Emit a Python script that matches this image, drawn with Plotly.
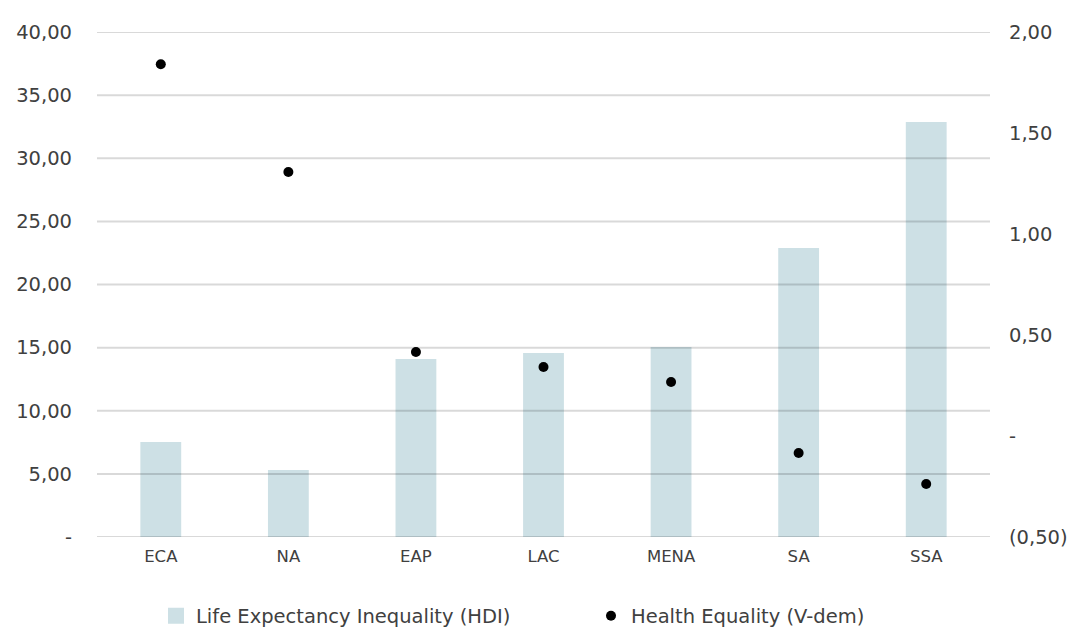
import plotly.graph_objects as go

categories = ["ECA", "NA", "EAP", "LAC", "MENA", "SA", "SSA"]
life_exp_ineq = [7.52, 5.31, 14.10, 14.57, 15.05, 22.90, 32.87]
health_equality = [1.84, 1.307, 0.416, 0.342, 0.267, -0.084, -0.238]

left_tickvals = [0, 5, 10, 15, 20, 25, 30, 35, 40]
left_ticktext = ["-", "5,00", "10,00", "15,00", "20,00", "25,00", "30,00", "35,00", "40,00"]
right_tickvals = [-0.5, 0, 0.5, 1.0, 1.5, 2.0]
right_ticktext = ["(0,50)", "-", "0,50", "1,00", "1,50", "2,00"]

bar_name = "Life Expectancy Inequality (HDI)"
dot_name = "Health Equality (V-dem)"

FONT = "'DejaVu Sans', sans-serif"
TXT = "#404040"
BAR = "#cde0e5"

W, H = 1073, 627

fig = go.Figure()
fig.add_trace(go.Bar(
    x=categories, y=life_exp_ineq, name=bar_name, showlegend=False,
    marker=dict(color=BAR, line=dict(width=0)), width=0.32, yaxis="y",
))
# legend-only entry with a larger square swatch
fig.add_trace(go.Scatter(
    x=[None], y=[None], name=bar_name, mode="markers",
    marker=dict(symbol="square", color=BAR, size=16), yaxis="y",
))
fig.add_trace(go.Scatter(
    x=categories, y=health_equality, name=dot_name,
    mode="markers", marker=dict(color="#000000", size=10), yaxis="y2",
))

shapes = [dict(type="line", xref="paper", x0=0, x1=1, yref="y", y0=v, y1=v,
               line=dict(color="rgba(0,0,0,0.15)", width=2), layer="above")
          for v in left_tickvals]

fig.update_layout(
    width=W, height=H,
    margin=dict(l=97, r=83, t=32, b=90, autoexpand=False),
    paper_bgcolor="white", plot_bgcolor="white",
    font=dict(family=FONT, color=TXT, size=19),
    showlegend=True,
    legend=dict(orientation="h", x=156 / W, xanchor="left", xref="container",
                y=11 / H, yanchor="middle", yref="container",
                font=dict(size=19.5, color=TXT), entrywidth=390, entrywidthmode="pixels",
                traceorder="normal", itemsizing="trace"),
    xaxis=dict(showgrid=False, showline=False, ticks="", tickfont=dict(size=16.5, color=TXT),
               range=[-0.5, 6.5], ticklabelstandoff=7),
    yaxis=dict(range=[0, 40], tickvals=left_tickvals, ticktext=left_ticktext,
               showgrid=False, zeroline=False, showline=False, ticks="",
               ticklabelstandoff=24, tickfont=dict(size=19.5, color=TXT)),
    yaxis2=dict(range=[-0.5, 2.0], tickvals=right_tickvals, ticktext=right_ticktext,
                overlaying="y", side="right", showgrid=False, zeroline=False,
                showline=False, ticks="", ticklabelstandoff=18,
                tickfont=dict(size=19.5, color=TXT)),
    shapes=shapes,
)

fig.write_html("out.html", config={"displayModeBar": False},
               post_script="document.body.style.margin='0';document.body.style.overflow='hidden';")
